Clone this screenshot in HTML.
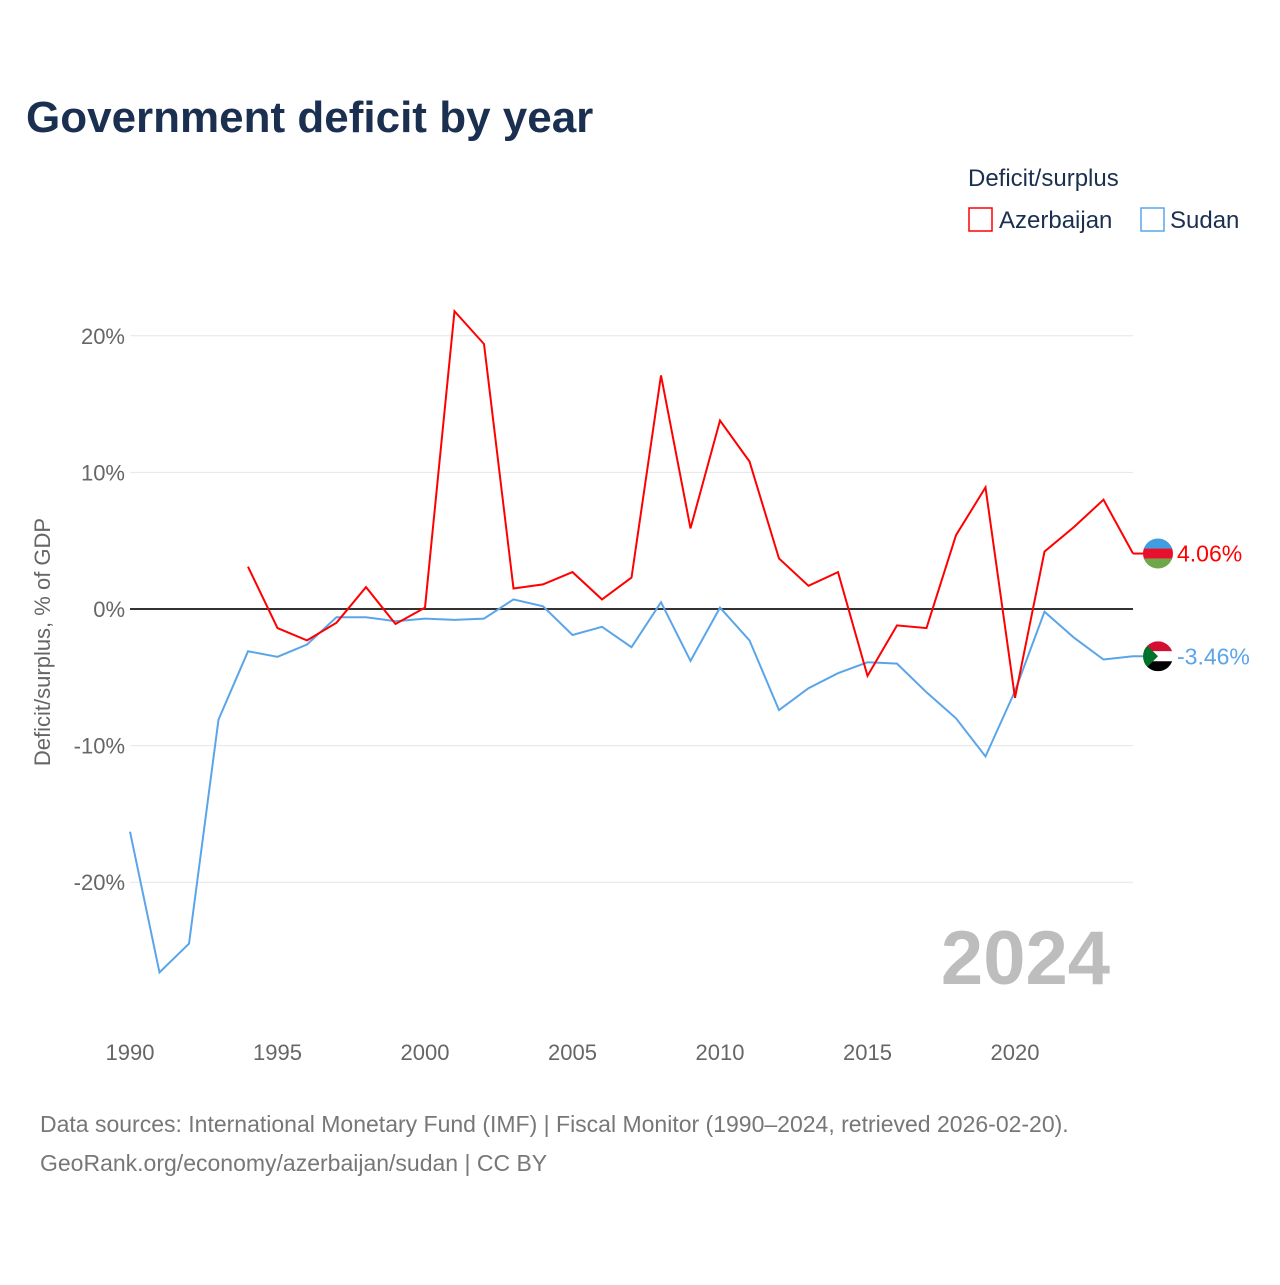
<!DOCTYPE html>
<html><head><meta charset="utf-8"><style>
body{margin:0;background:#fff;font-family:"Liberation Sans",sans-serif;}
svg text{font-family:"Liberation Sans",sans-serif;}
</style></head><body>
<svg id="c" width="1280" height="1280">
<defs>
<clipPath id="ca"><circle cx="1158" cy="553.5" r="15"/></clipPath>
<clipPath id="cs"><circle cx="1158" cy="656.3" r="15"/></clipPath>
</defs>
<text x="26" y="132" font-size="44" font-weight="bold" fill="#1b3050">Government deficit by year</text>
<text x="968" y="186" font-size="24" fill="#1b3050">Deficit/surplus</text>
<g><rect x="969" y="208" width="23" height="23" fill="none" stroke="#f00" stroke-width="1.5"/><text x="999" y="228" font-size="24" fill="#1b3050">Azerbaijan</text></g>
<g><rect x="1141" y="208" width="23" height="23" fill="none" stroke="#5aa5ea" stroke-width="1.5"/><text x="1170" y="228" font-size="24" fill="#1b3050">Sudan</text></g>
<text transform="translate(50,642) rotate(-90)" text-anchor="middle" font-size="22" fill="#666">Deficit/surplus, % of GDP</text>
<text x="1110" y="984" text-anchor="end" font-size="76" font-weight="bold" fill="#bdbdbd">2024</text>
<g id="grid"></g><g id="lines"></g>
<text x="40" y="1132" font-size="23" fill="#777">Data sources: International Monetary Fund (IMF) | Fiscal Monitor (1990–2024, retrieved 2026-02-20).</text>
<text x="40" y="1171" font-size="23" fill="#777">GeoRank.org/economy/azerbaijan/sudan | CC BY</text>
</svg>
<script>
const years=[];for(let y=1990;y<=2024;y++)years.push(y);
const yTicks=[20,10,0,-10,-20];
const xTicks=[1990,1995,2000,2005,2010,2015,2020];
const azerbaijan=[null,null,null,null,3.1,-1.4,-2.3,-1.0,1.6,-1.1,0.1,21.8,19.4,1.5,1.8,2.7,0.7,2.3,17.1,5.9,13.8,10.8,3.7,1.7,2.7,-4.9,-1.2,-1.4,5.4,8.9,-6.5,4.2,6.0,8.0,4.06];
const sudan=[-16.3,-26.6,-24.5,-8.1,-3.1,-3.5,-2.6,-0.6,-0.6,-0.9,-0.7,-0.8,-0.7,0.7,0.2,-1.9,-1.3,-2.8,0.5,-3.8,0.1,-2.3,-7.4,-5.8,-4.7,-3.9,-4.0,-6.1,-8.0,-10.8,-6.0,-0.2,-2.1,-3.7,-3.46];
const X=y=>130+(y-1990)*(1133-130)/34;
const Y=v=>609-v*13.66;
const NS="http://www.w3.org/2000/svg";
const g=document.getElementById('grid'),L=document.getElementById('lines');
function mk(t,a,p){const e=document.createElementNS(NS,t);for(const k in a)e.setAttribute(k,a[k]);p.appendChild(e);return e;}
yTicks.forEach(v=>{
const l=mk('line',{x1:130,x2:1133,y1:Y(v),y2:Y(v),stroke:v===0?'#333':'#e6e6e6','stroke-width':v===0?2:1},g);


const t=mk('text',{x:125,y:Y(v)+8,'text-anchor':'end','font-size':22,fill:'#666'},g);
t.textContent=v+'%';


});
xTicks.forEach(v=>{
const t=mk('text',{x:X(v),y:1060,'text-anchor':'middle','font-size':22,fill:'#666'},g);
t.textContent=v;


});
function line(data,color,name,stripes,tri){
let d='';data.forEach((v,i)=>{if(v===null)return;d+=(d?'L':'M')+X(years[i]).toFixed(1)+','+Y(v).toFixed(1);});
const p=mk('path',{d:d,fill:'none',stroke:color,'stroke-width':2},L);


const last=data[data.length-1];
const cy=Y(last);
mk('line',{x1:1133,x2:1144,y1:cy,y2:cy,stroke:color,'stroke-width':2},L);
const fg=mk('g',{'clip-path':'url(#'+(name==='azerbaijan'?'ca':'cs')+')'},L);


stripes.forEach((c,i)=>mk('rect',{x:1143,y:cy-15+i*10,width:30,height:10,fill:c},fg));
if(tri)mk('path',{d:`M1143,${cy-15}L1158,${cy}L1143,${cy+15}Z`,fill:tri},fg);
const t=mk('text',{x:1177,y:cy+8,'font-size':23,fill:color},L);
t.textContent=last.toFixed(2)+'%';


}
line(sudan,'#5aa5ea','sudan',['#d21034','#ffffff','#000000'],'#007229');
line(azerbaijan,'#f00','azerbaijan',['#3f9de0','#e8112d','#6ea84a'],null);
</script>
</body></html>
